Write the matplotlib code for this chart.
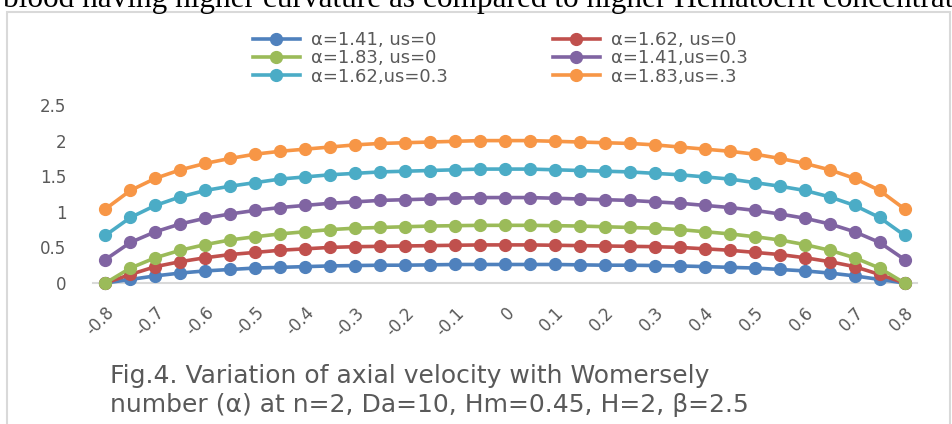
import numpy as np
import matplotlib.pyplot as plt
from matplotlib.patches import Rectangle

# radial position (every 0.05), labels only every 0.1
xpos = [-0.8, -0.75, -0.7, -0.65, -0.6, -0.55, -0.5, -0.45, -0.4, -0.35, -0.3,
        -0.25, -0.2, -0.15, -0.1, -0.05, 0, 0.05, 0.1, 0.15, 0.2, 0.25, 0.3,
        0.35, 0.4, 0.45, 0.5, 0.55, 0.6, 0.65, 0.7, 0.75, 0.8]

a141_us0 = [0, 0.05, 0.10, 0.14, 0.17, 0.19, 0.21, 0.22, 0.23, 0.24, 0.245,
            0.25, 0.25, 0.255, 0.26, 0.26, 0.26, 0.26, 0.26, 0.255, 0.25, 0.25,
            0.245, 0.24, 0.23, 0.22, 0.21, 0.19, 0.17, 0.14, 0.10, 0.05, 0]
a162_us0 = [0, 0.12, 0.23, 0.30, 0.355, 0.40, 0.43, 0.46, 0.48, 0.50, 0.51,
            0.515, 0.52, 0.525, 0.53, 0.535, 0.535, 0.535, 0.53, 0.525, 0.52,
            0.515, 0.51, 0.50, 0.48, 0.46, 0.43, 0.40, 0.355, 0.30, 0.23, 0.12, 0]
a183_us0 = [0, 0.21, 0.355, 0.46, 0.54, 0.605, 0.65, 0.69, 0.72, 0.75, 0.77,
            0.78, 0.79, 0.80, 0.805, 0.81, 0.81, 0.81, 0.805, 0.80, 0.79, 0.78,
            0.77, 0.75, 0.72, 0.69, 0.65, 0.605, 0.54, 0.46, 0.355, 0.21, 0]
a141_us03 = [0.33, 0.57, 0.72, 0.83, 0.91, 0.97, 1.02, 1.06, 1.09, 1.12, 1.14,
             1.16, 1.17, 1.18, 1.19, 1.20, 1.20, 1.20, 1.19, 1.18, 1.17, 1.16,
             1.14, 1.12, 1.09, 1.06, 1.02, 0.97, 0.91, 0.83, 0.72, 0.57, 0.33]
a162_us03 = [0.67, 0.92, 1.09, 1.21, 1.30, 1.36, 1.41, 1.46, 1.49, 1.52, 1.54,
             1.56, 1.57, 1.58, 1.59, 1.60, 1.60, 1.60, 1.59, 1.58, 1.57, 1.56,
             1.54, 1.52, 1.49, 1.46, 1.41, 1.36, 1.30, 1.21, 1.09, 0.92, 0.67]
a183_us03 = [1.04, 1.30, 1.47, 1.59, 1.68, 1.75, 1.81, 1.85, 1.88, 1.91, 1.94,
             1.96, 1.97, 1.98, 1.99, 2.00, 2.00, 2.00, 1.99, 1.98, 1.97, 1.96,
             1.94, 1.91, 1.88, 1.85, 1.81, 1.75, 1.68, 1.59, 1.47, 1.30, 1.04]

series = [a141_us0, a162_us0, a183_us0, a141_us03, a162_us03, a183_us03]
names = ["α=1.41, us=0", "α=1.62, us=0", "α=1.83, us=0",
         "α=1.41,us=0.3", "α=1.62,us=0.3", "α=1.83,us=.3"]
colors = ["#4F81BD", "#C0504D", "#9BBB59", "#8064A2", "#4BACC6", "#F79646"]

yticks = [0, 0.5, 1, 1.5, 2, 2.5]
ytick_labels = ["0", "0.5", "1", "1.5", "2", "2.5"]

grey = "#595959"
plt.rcParams['font.family'] = ['DejaVu Sans']

W, H = 953, 424
fig = plt.figure(figsize=(W / 100, H / 100), dpi=100)

# chart frame
fig.patches.append(Rectangle((7 / W, -0.05), 943 / W, 1 - 11.5 / H + 0.05,
                             transform=fig.transFigure, fill=False,
                             edgecolor="#D9D9D9", lw=1.5))

# cut-off document text above the chart
fig.text(3 / W, 1 - 7 / H,
         "blood having higher curvature as compared to higher Hematocrit concentration",
         family="Liberation Serif", fontsize=22.5, va="baseline", ha="left",
         color="black")

ax = fig.add_axes([93 / W, (H - 283) / H, 824 / W, 178 / H])
idx = np.arange(len(xpos))
lines = []
for ys, lab, c in zip(series, names, colors):
    lines += ax.plot(idx, ys, color=c, lw=2.6, marker="o", ms=8.5,
                     label=lab, clip_on=False)

ax.set_xlim(-0.5, len(xpos) - 0.5)
ax.set_ylim(0, 2.5)
ax.set_yticks(yticks)
ax.set_yticklabels(ytick_labels, color=grey, fontsize=12)
ax.set_xticks(idx[::2])
ax.set_xticklabels([f"{v:g}" for v in xpos[::2]], rotation=45, ha="right",
                   va="top", rotation_mode="anchor", color=grey, fontsize=12)
ax.tick_params(length=0)
ax.tick_params(axis="y", pad=19)
ax.tick_params(axis="x", pad=15)
for s in ["top", "right", "left"]:
    ax.spines[s].set_visible(False)
ax.spines["bottom"].set_color("#D9D9D9")
ax.spines["bottom"].set_linewidth(1.5)
ax.spines["bottom"].set_zorder(0)

# legend filled row by row: two columns placed separately
for col, x0 in [(0, 253), (1, 553)]:
    fig.legend(lines[col::2], names[col::2], loc="upper left",
               bbox_to_anchor=(x0 / W, 1 - 31 / H),
               frameon=False, fontsize=13, labelcolor=grey,
               handlelength=2.6, labelspacing=0.02,
               handletextpad=0.6, borderpad=0, borderaxespad=0)

fig.text(110 / W, 1 - 383 / H,
         "Fig.4. Variation of axial velocity with Womersely",
         fontsize=18, color=grey, va="baseline")
fig.text(110 / W, 1 - 412 / H,
         "number (α) at n=2, Da=10, Hm=0.45, H=2, β=2.5",
         fontsize=18, color=grey, va="baseline")

fig.savefig("out.png", dpi=100)
